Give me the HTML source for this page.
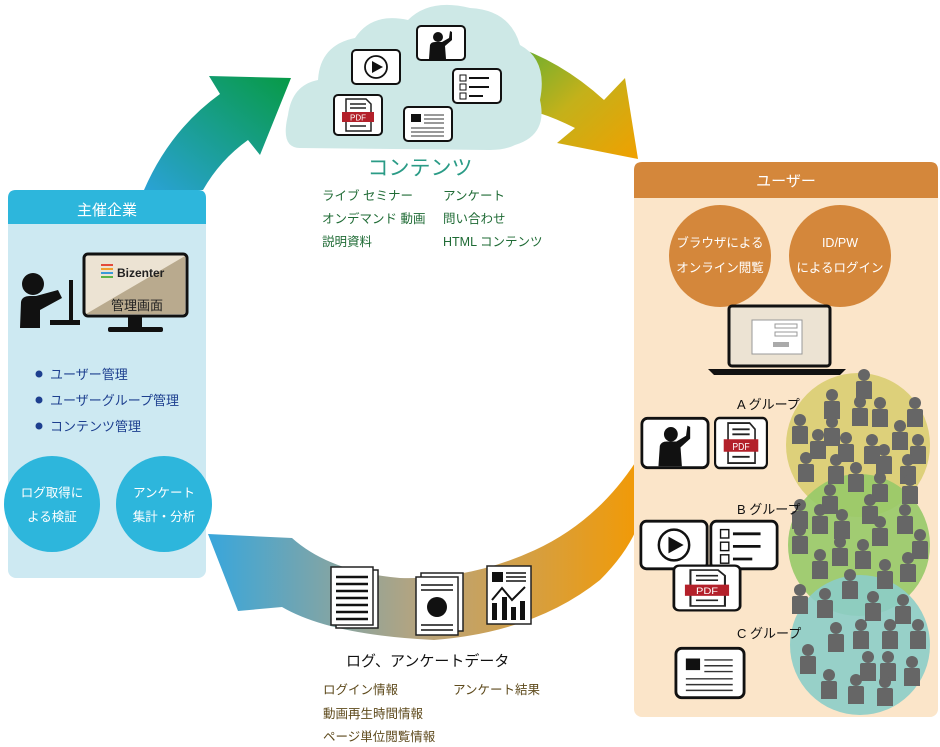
<!DOCTYPE html>
<html><head><meta charset="utf-8"><style>
html,body{margin:0;padding:0;background:#fff;}
svg{display:block;font-family:"Liberation Sans","Noto Sans CJK JP",sans-serif;}
</style></head><body>
<svg width="940" height="747" viewBox="0 0 940 747" xmlns="http://www.w3.org/2000/svg">
<defs>
<linearGradient id="g1" x1="0" y1="1" x2="1" y2="0"><stop offset="0" stop-color="#2aa2d6"/><stop offset="1" stop-color="#079a45"/></linearGradient>
<linearGradient id="g2" x1="0" y1="0" x2="1" y2="1"><stop offset="0" stop-color="#5aae34"/><stop offset="0.5" stop-color="#c4b11a"/><stop offset="1" stop-color="#f0a000"/></linearGradient>
<linearGradient id="g3" x1="1" y1="0" x2="0" y2="0"><stop offset="0" stop-color="#f29a05"/><stop offset="0.5" stop-color="#b9a47c"/><stop offset="1" stop-color="#38a6dc"/></linearGradient>
<g id="p"><circle cx="0" cy="-10" r="6" fill="#666"/><path d="M-8 -2 Q-8 -4 -6 -4 L6 -4 Q8 -4 8 -2 L8 14 L-8 14 Z" fill="#666"/></g>
<g id="pdf"><rect x="-24" y="-20" width="48" height="40" rx="4" fill="#fff" stroke="#111" stroke-width="2"/><path d="M-12 -16 L8 -16 L13 -11 L13 16 L-12 16 Z" fill="#fff" stroke="#222" stroke-width="1.5"/><line x1="-8" y1="-11" x2="8" y2="-11" stroke="#222" stroke-width="1.5"/><line x1="-8" y1="-7" x2="8" y2="-7" stroke="#222" stroke-width="1.5"/><rect x="-16" y="-3" width="32" height="10" fill="#b3202a"/><text x="0" y="5.5" font-size="8" fill="#fff" text-anchor="middle">PDF</text><line x1="-8" y1="11" x2="8" y2="11" stroke="#222" stroke-width="1.5"/></g>
<g id="play"><rect x="-24" y="-17" width="48" height="34" rx="4" fill="#fff" stroke="#111" stroke-width="2"/><circle r="11" fill="none" stroke="#111" stroke-width="1.8"/><path d="M-4 -6 L7 0 L-4 6 Z" fill="#111"/></g>
<g id="chk"><rect x="-24" y="-17" width="48" height="34" rx="4" fill="#fff" stroke="#111" stroke-width="2"/><rect x="-17" y="-11" width="6" height="6" fill="none" stroke="#111"/><rect x="-17" y="-2" width="6" height="6" fill="none" stroke="#111"/><rect x="-17" y="7" width="6" height="6" fill="none" stroke="#111"/><path d="M-8 -8h20M-8 1h20M-8 10h14" stroke="#111" stroke-width="2"/></g>
<g id="doc"><rect x="-24" y="-17" width="48" height="34" rx="4" fill="#fff" stroke="#111" stroke-width="2"/><rect x="-17" y="-10" width="10" height="8" fill="#111"/><path d="M-4 -9h20M-4 -5h20M-4 -1h20M-17 4h33M-17 8h33M-17 12h33" stroke="#333" stroke-width="1"/></g>
<g id="pres"><rect x="-24" y="-17" width="48" height="34" rx="4" fill="#fff" stroke="#111" stroke-width="2"/><circle cx="-3" cy="-6" r="5" fill="#111"/><path d="M-12 16 L-11 2 Q-10 -1 -6 -1 L1 -1 L8 -5 L9 -12 L11 -11 L11 -3 L4 3 L5 16 Z" fill="#111"/></g>
</defs>

<!-- arrows -->
<path d="M144 190 Q170 130 220 94 L209 76 L291 78 L260 155 L248 140 Q220 160 203 190 Z" fill="url(#g1)"/>
<path d="M508 44 Q560 60 604 100 L625 78 L638 159 L557 143 L575 128 Q555 118 539 113 Z" fill="url(#g2)"/>
<path d="M640 455 Q600 520 535 550 Q470 580 400 578 Q330 572 292 538 L208 534 L238 611 L282 607 Q330 635 434 640 Q535 632 600 580 Q630 550 640 520 Z" fill="url(#g3)"/>

<!-- cloud -->
<path d="M300 148 Q280 148 288 115 Q292 85 318 80 Q320 45 355 38 Q372 12 408 20 Q430 -2 470 8 Q510 10 520 45 Q548 60 540 100 Q548 135 515 145 Q505 150 490 150 Z" fill="#cde8e6"/>
<use href="#play" x="376" y="67"/>
<use href="#pres" x="441" y="43"/>
<use href="#chk" x="477" y="86"/>
<use href="#pdf" x="358" y="115"/>
<use href="#doc" x="428" y="124"/>
<text x="420" y="175" font-size="21" fill="#2a9b86" text-anchor="middle">コンテンツ</text>
<g font-size="12.5" fill="#1f6b35">
<text x="322" y="200">ライブ セミナー</text><text x="443" y="200">アンケート</text>
<text x="322" y="223">オンデマンド 動画</text><text x="443" y="223">問い合わせ</text>
<text x="322" y="246">説明資料</text><text x="443" y="246">HTML コンテンツ</text>
</g>

<!-- left panel -->
<rect x="8" y="190" width="198" height="388" rx="8" fill="#cde9f2"/>
<path d="M8 224 V198 Q8 190 16 190 H198 Q206 190 206 198 V224 Z" fill="#2db6dc"/>
<text x="107" y="215" font-size="15" fill="#fff" text-anchor="middle">主催企業</text>
<circle cx="33" cy="284" r="11" fill="#111"/>
<path d="M20 328 L21 302 Q22 296 30 296 L36 296 L58 290 L62 298 L40 310 L40 328 Z" fill="#111"/>
<rect x="69" y="280" width="4" height="40" fill="#111"/><rect x="50" y="320" width="30" height="5" fill="#111"/>
<rect x="84" y="254" width="103" height="62" rx="4" fill="#ece3d3" stroke="#111" stroke-width="3"/>
<path d="M86 314 L185 256 L185 314 Z" fill="#b9aa8e"/>
<rect x="128" y="316" width="14" height="12" fill="#111"/><rect x="108" y="327" width="55" height="5" rx="2" fill="#111"/>
<g><rect x="101" y="264" width="12" height="2" fill="#e34b3b"/><rect x="101" y="268" width="12" height="2" fill="#f0a030"/><rect x="101" y="272" width="12" height="2" fill="#3a9ad8"/><rect x="101" y="276" width="12" height="2" fill="#5db347"/></g>
<text x="117" y="277" font-size="12" font-weight="bold" fill="#222">Bizenter</text>
<text x="137" y="310" font-size="13" fill="#222" text-anchor="middle">管理画面</text>
<g font-size="13" fill="#1d3f8f">
<circle cx="39" cy="374" r="3.5" fill="#1d3f8f"/><text x="50" y="379">ユーザー管理</text>
<circle cx="39" cy="400" r="3.5" fill="#1d3f8f"/><text x="50" y="405">ユーザーグループ管理</text>
<circle cx="39" cy="426" r="3.5" fill="#1d3f8f"/><text x="50" y="431">コンテンツ管理</text>
</g>
<circle cx="52" cy="504" r="48" fill="#2db6dc"/>
<circle cx="164" cy="504" r="48" fill="#2db6dc"/>
<g font-size="12.5" fill="#fff" text-anchor="middle">
<text x="52" y="497">ログ取得に</text><text x="52" y="521">よる検証</text>
<text x="164" y="497">アンケート</text><text x="164" y="521">集計・分析</text>
</g>

<!-- right panel -->
<rect x="634" y="162" width="304" height="555" rx="8" fill="#fbe5c9"/>
<path d="M634 198 V170 Q634 162 642 162 H930 Q938 162 938 170 V198 Z" fill="#d4873b"/>
<text x="786" y="186" font-size="15" fill="#fff" text-anchor="middle">ユーザー</text>
<circle cx="720" cy="256" r="51" fill="#d4873b"/>
<circle cx="840" cy="256" r="51" fill="#d4873b"/>
<g font-size="12.5" fill="#fff" text-anchor="middle">
<text x="720" y="247">ブラウザによる</text><text x="720" y="272">オンライン閲覧</text>
<text x="840" y="247">ID/PW</text><text x="840" y="272">によるログイン</text>
</g>
<rect x="729" y="306" width="101" height="60" rx="3" fill="#ece3d3" stroke="#111" stroke-width="3"/>
<rect x="752" y="320" width="50" height="34" fill="#fff" stroke="#999"/>
<rect x="775" y="324" width="22" height="4" fill="none" stroke="#999"/><rect x="775" y="332" width="22" height="4" fill="none" stroke="#999"/><rect x="773" y="342" width="16" height="5" fill="#aaa"/>
<path d="M708 369 L846 369 L840 375 L714 375 Z" fill="#111"/>

<circle cx="858" cy="445" r="72" fill="#ddd07a"/>
<circle cx="859" cy="545" r="71" fill="#97c968" fill-opacity="0.9"/>
<circle cx="860" cy="645" r="70" fill="#8ccdc8" fill-opacity="0.9"/>
<g>
<use href="#p" x="864" y="385"/><use href="#p" x="832" y="405"/><use href="#p" x="860" y="412"/><use href="#p" x="880" y="413"/><use href="#p" x="915" y="413"/><use href="#p" x="800" y="430"/><use href="#p" x="832" y="432"/><use href="#p" x="900" y="436"/><use href="#p" x="818" y="445"/><use href="#p" x="846" y="448"/><use href="#p" x="872" y="450"/><use href="#p" x="918" y="450"/><use href="#p" x="884" y="460"/><use href="#p" x="806" y="468"/><use href="#p" x="836" y="470"/><use href="#p" x="908" y="470"/><use href="#p" x="856" y="478"/><use href="#p" x="880" y="488"/><use href="#p" x="910" y="490"/><use href="#p" x="830" y="500"/><use href="#p" x="870" y="510"/><use href="#p" x="800" y="515"/><use href="#p" x="905" y="520"/><use href="#p" x="820" y="520"/><use href="#p" x="842" y="525"/><use href="#p" x="880" y="532"/><use href="#p" x="800" y="540"/><use href="#p" x="920" y="545"/><use href="#p" x="840" y="552"/><use href="#p" x="863" y="555"/><use href="#p" x="820" y="565"/><use href="#p" x="908" y="568"/><use href="#p" x="885" y="575"/><use href="#p" x="850" y="585"/><use href="#p" x="800" y="600"/><use href="#p" x="825" y="604"/><use href="#p" x="873" y="607"/><use href="#p" x="903" y="610"/><use href="#p" x="836" y="638"/><use href="#p" x="861" y="635"/><use href="#p" x="890" y="635"/><use href="#p" x="918" y="635"/><use href="#p" x="808" y="660"/><use href="#p" x="868" y="667"/><use href="#p" x="888" y="667"/><use href="#p" x="912" y="672"/><use href="#p" x="829" y="685"/><use href="#p" x="856" y="690"/><use href="#p" x="885" y="692"/>
</g>
<g font-size="13" fill="#111">
<text x="737" y="409">A グループ</text>
<text x="737" y="514">B グループ</text>
<text x="737" y="638">C グループ</text>
</g>
<use href="#pres" transform="translate(675,443) scale(1.38,1.45)"/>
<use href="#pdf" transform="translate(741,443) scale(1.08,1.25)"/>
<use href="#play" transform="translate(674,545) scale(1.38,1.4)"/>
<use href="#chk" transform="translate(744,545) scale(1.38,1.4)"/>
<use href="#pdf" transform="translate(707,588) scale(1.38,1.12)"/>
<use href="#doc" transform="translate(710,673) scale(1.42,1.45)"/>

<!-- data docs -->
<rect x="336" y="570" width="42" height="58" fill="#fff" stroke="#222" stroke-width="1.5"/>
<rect x="331" y="567" width="42" height="58" fill="#fff" stroke="#222" stroke-width="1.5"/>
<path d="M336 577h32M336 584h32M336 591h32M336 598h32M336 605h32M336 612h32M336 619h32" stroke="#111" stroke-width="2.5"/>
<rect x="421" y="573" width="42" height="58" fill="#fff" stroke="#222" stroke-width="1.5"/>
<rect x="416" y="577" width="42" height="58" fill="#fff" stroke="#222" stroke-width="1.5"/>
<path d="M421 585h32M421 590h32M421 625h32M421 630h32" stroke="#111" stroke-width="1.5"/>
<circle cx="437" cy="607" r="10" fill="#111"/>
<rect x="487" y="566" width="44" height="58" fill="#fff" stroke="#222" stroke-width="1.5"/>
<rect x="492" y="572" width="11" height="10" fill="#111"/><path d="M506 573h20M506 577h20M506 581h20" stroke="#111" stroke-width="1.5"/>
<path d="M492 600 L502 588 L512 600 L525 587" fill="none" stroke="#111" stroke-width="2"/>
<rect x="492" y="603" width="5" height="17" fill="#111"/><rect x="502" y="597" width="5" height="23" fill="#111"/><rect x="511" y="607" width="5" height="13" fill="#111"/><rect x="520" y="601" width="5" height="19" fill="#111"/>
<text x="346" y="666" font-size="15" fill="#111">ログ、アンケートデータ</text>
<g font-size="12.5" fill="#5e4a1c">
<text x="323" y="694">ログイン情報</text><text x="453" y="694">アンケート結果</text>
<text x="323" y="718">動画再生時間情報</text>
<text x="323" y="741">ページ単位閲覧情報</text>
</g>
</svg>
</body></html>
